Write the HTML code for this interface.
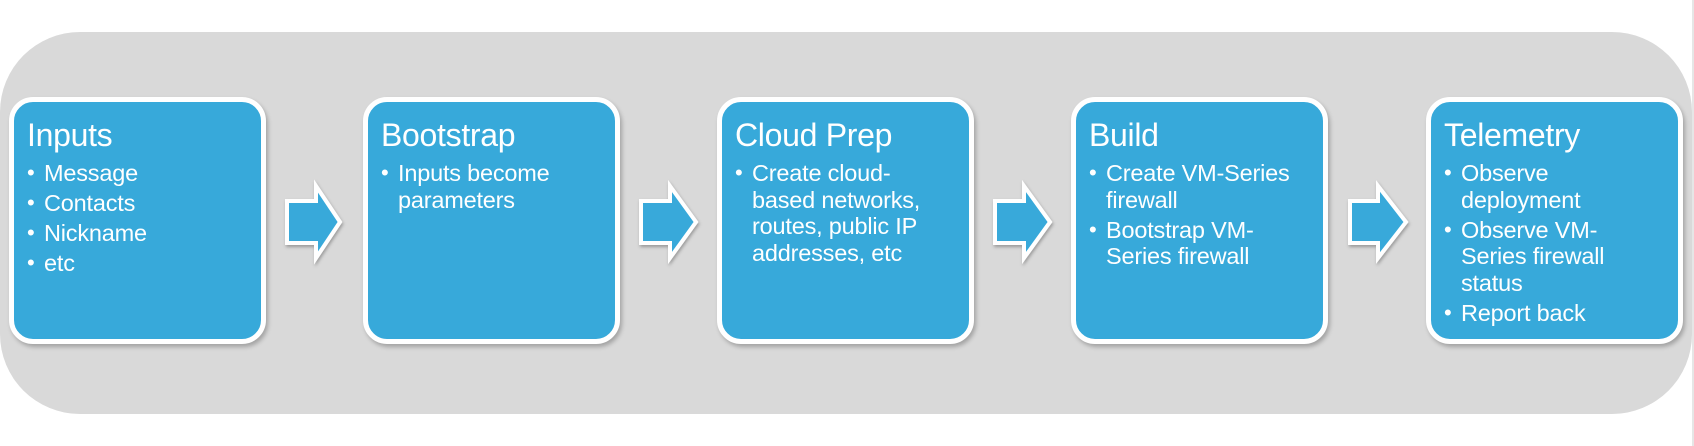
<!DOCTYPE html>
<html><head><meta charset="utf-8"><style>
html,body{margin:0;padding:0;background:#fff;}
body{width:1694px;height:446px;position:relative;overflow:hidden;font-family:"Liberation Sans",Arial,sans-serif;}
.bg{position:absolute;left:0;top:32px;width:1692px;height:382px;background:#d9d9d9;border-radius:80px;}
.vl{position:absolute;left:1692px;top:0;width:2px;height:446px;background:#e6e6e6;}
.box{position:absolute;top:97px;width:247px;height:237px;background:#37a9da;border:5px solid #fff;border-radius:24px;box-shadow:2px 3px 4px rgba(0,0,0,0.25);color:#fff;}
.t{position:absolute;left:13px;top:15px;font-size:32px;line-height:36px;white-space:nowrap;letter-spacing:-0.3px;}
ul{position:absolute;left:13px;top:58px;margin:0;padding:0;list-style:none;font-size:23.5px;line-height:26.5px;letter-spacing:-0.2px;}
li{position:relative;padding-left:17px;margin-bottom:3.5px;white-space:nowrap;}
li:before{content:"•";position:absolute;left:0;top:0;font-size:22px;}
svg{position:absolute;left:0;top:0;}
</style></head><body>
<div class="bg"></div><div class="vl"></div>
<svg width="1694" height="446">
<defs><filter id="s" x="-20%" y="-20%" width="150%" height="150%"><feDropShadow dx="1" dy="2" stdDeviation="1.5" flood-opacity="0.3"/></filter></defs>
<g fill="#37a9da" stroke="#fff" stroke-width="4" filter="url(#s)">
<path d="M287 201H316V186L340 222L316 258V243H287Z"/>
<path d="M641 201H670V186L696 222L670 258V243H641Z"/>
<path d="M995 201H1024V186L1050 222L1024 258V243H995Z"/>
<path d="M1350 201H1378V186L1406 222L1378 258V243H1350Z"/>
</g></svg>
<div class="box" style="left:9px"><div class="t">Inputs</div><ul><li>Message</li><li>Contacts</li><li>Nickname</li><li>etc</li></ul></div>
<div class="box" style="left:363px"><div class="t">Bootstrap</div><ul><li>Inputs become<br>parameters</li></ul></div>
<div class="box" style="left:717px"><div class="t">Cloud Prep</div><ul><li>Create cloud-<br>based networks,<br>routes, public IP<br>addresses, etc</li></ul></div>
<div class="box" style="left:1071px"><div class="t">Build</div><ul><li>Create VM-Series<br>firewall</li><li>Bootstrap VM-<br>Series firewall</li></ul></div>
<div class="box" style="left:1426px"><div class="t">Telemetry</div><ul><li>Observe<br>deployment</li><li>Observe VM-<br>Series firewall<br>status</li><li>Report back</li></ul></div>
</body></html>
